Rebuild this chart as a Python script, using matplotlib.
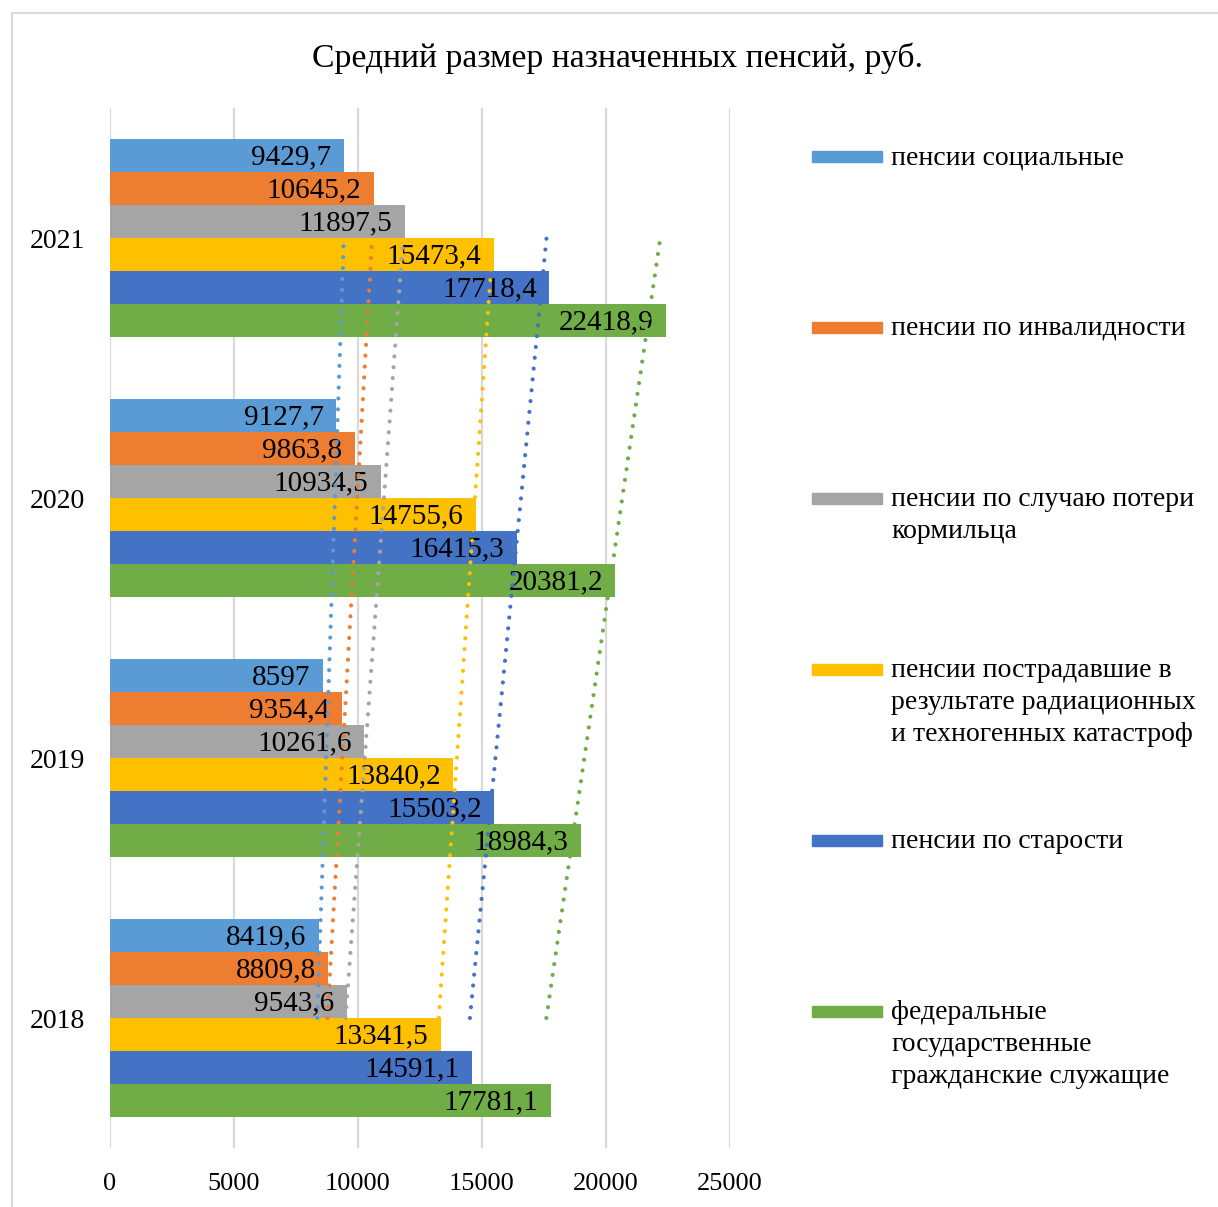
import numpy as np
import matplotlib

matplotlib.use("Agg")
import matplotlib.pyplot as plt  # noqa: E402
from matplotlib.patches import Rectangle  # noqa: E402

plt.rcParams["font.family"] = ["Liberation Serif", "DejaVu Serif"]

years = ["2018", "2019", "2020", "2021"]
series_names = [
    "пенсии социальные",
    "пенсии по инвалидности",
    "пенсии по случаю потери\nкормильца",
    "пенсии пострадавшие в\nрезультате радиационных\nи техногенных катастроф",
    "пенсии по старости",
    "федеральные\nгосударственные\nгражданские служащие",
]
social = [8419.6, 8597, 9127.7, 9429.7]
disability = [8809.8, 9354.4, 9863.8, 10645.2]
survivor = [9543.6, 10261.6, 10934.5, 11897.5]
radiation = [13341.5, 13840.2, 14755.6, 15473.4]
old_age = [14591.1, 15503.2, 16415.3, 17718.4]
civil_servants = [17781.1, 18984.3, 20381.2, 22418.9]
series = [social, disability, survivor, radiation, old_age, civil_servants]
colors = ["#5B9BD5", "#ED7D31", "#A5A5A5", "#FFC000", "#4472C4", "#70AD47"]

W, H = 1218, 1207
fig = plt.figure(figsize=(W / 100, H / 100), dpi=100)
ax = fig.add_axes([110 / W, 1 - 1148 / H, 620 / W, 1040 / H])

y = np.arange(len(years))
bar_h = 0.127
for i, (vals, c) in enumerate(zip(series, colors)):
    # first series sits on top of each group
    off = (2.5 - i) * bar_h
    bars = ax.barh(y + off, vals, height=bar_h, color=c, zorder=2)
    for b, v in zip(bars, vals):
        ax.annotate(f"{v:g}".replace(".", ","),
                    (b.get_width(), b.get_y() + b.get_height() / 2),
                    xytext=(-9, -1.5), textcoords="offset points",
                    ha="right", va="center", fontsize=21, zorder=3)

# linear trend per series across the years
for vals, c in zip(series, colors):
    k, b0 = np.polyfit(y, vals, 1)
    ax.plot(k * y[[0, -1]] + b0, y[[0, -1]], color=c, lw=3,
            linestyle=(0, (0.01, 2.6)), dash_capstyle="round", zorder=4)

ax.set_xlim(0, 25000)
ax.set_ylim(-0.5, 3.5)
ax.set_xticks(range(0, 25001, 5000))
ax.set_yticks(y, years)
ax.xaxis.grid(True, color="#D9D9D9", lw=1.6, zorder=0)
ax.set_axisbelow(True)
for s in ax.spines.values():
    s.set_visible(False)
ax.tick_params(axis="x", length=0, pad=18, labelsize=19)
ax.tick_params(axis="y", length=0, pad=18, labelsize=20)

fig.text(618 / W, 1 - 58 / H, "Средний размер назначенных пенсий, руб.",
         ha="center", va="center", fontsize=24.3)

# legend column on the right
for i, (name, c) in enumerate(zip(series_names, colors)):
    yc = 157 + 171 * i
    fig.patches.append(Rectangle((812 / W, 1 - (yc + 5) / H), 70 / W, 11 / H,
                                 transform=fig.transFigure, color=c))
    fig.text(891 / W, 1 - (yc - 12) / H, name, ha="left", va="top",
             fontsize=20, linespacing=1.38)

# chart area frame
fig.patches.append(Rectangle((12 / W, -0.05), 1.1, 1 - 13 / H + 0.05,
                             transform=fig.transFigure, fill=False,
                             ec="#D9D9D9", lw=1.5))

fig.savefig("out.png", dpi=100)
